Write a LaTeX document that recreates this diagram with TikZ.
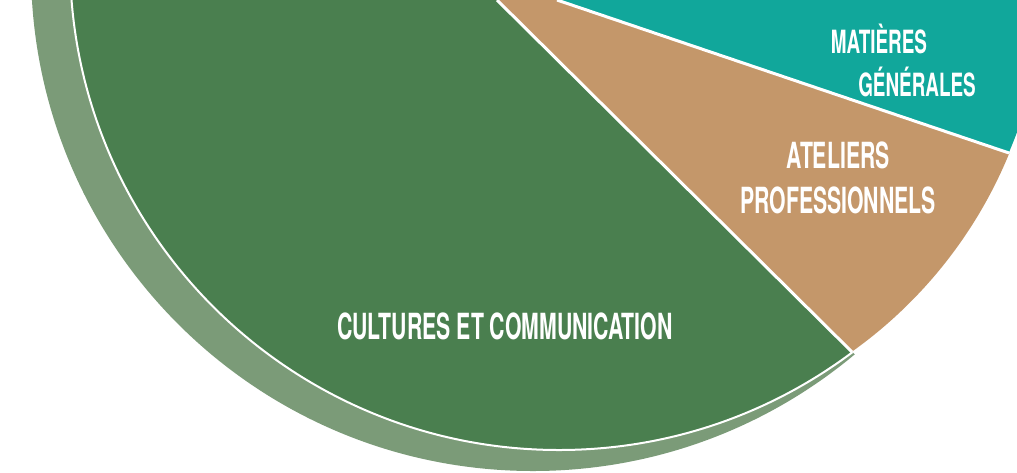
\documentclass[tikz,border=0pt]{standalone}
\usepackage{fontspec}
\newfontfamily\slicefont[FakeStretch=0.59]{TeX Gyre Heros}
\usetikzlibrary{calc}
\definecolor{cultgreen}{HTML}{4A7F4F}
\definecolor{cultshadow}{HTML}{7B9B78}
\definecolor{ateltan}{HTML}{C4976A}
\definecolor{matteal}{HTML}{11A79B}

\begin{document}
\begin{tikzpicture}[x=1pt,y=-1pt, every node/.style={text=white}]
    \tikzset{bigtext/.style={font=\slicefont\bfseries\fontsize{36}{36}\selectfont,anchor=base}}
    \tikzset{smalltext/.style={font=\slicefont\bfseries\fontsize{32}{32}\selectfont,anchor=base}}
    \tikzset{sep/.style={white,line width=3pt}}

    \useasboundingbox (0,0) rectangle (1017,472);
    \clip (0,0) rectangle (1017,472);

    % Green slice with its shadow
    \begin{scope}
      \clip (497,0) -- (1030,528) -- (-50,528) -- (-50,0) -- cycle;
      \fill[cultshadow] (533,-31) circle[radius=502pt];
      \fill[cultgreen] (559,-39) circle[radius=489pt];
      \draw[white,line width=2pt] (559,-39) circle[radius=489pt];
    \end{scope}

    % Tan slice
    \begin{scope}
      \clip (497,0) -- (1030,528) -- (1100,528) -- (1100,184) -- (557,0) -- cycle;
      \fill[ateltan] (588,-19) circle[radius=455pt];
    \end{scope}

    % Teal slice
    \begin{scope}
      \clip (557,0) -- (1100,184) -- (1100,-10) -- (557,-10) -- cycle;
      \fill[matteal] (580,-30) circle[radius=466pt];
    \end{scope}

    % white cuts between slices
    \draw[sep] (497,0) -- (852,352);
    \draw[sep] (557,0) -- (1009,153);

    \node[bigtext] (cultures) at (505,339) {CULTURES ET COMMUNICATION};
    \node[bigtext] (ateliers) at (838,168) {ATELIERS};
    \node[bigtext] (professionnels) at (838,213) {PROFESSIONNELS};
    \node[smalltext] (matieres) at (879,53) {MATIÈRES};
    \node[smalltext] (generales) at (917,96) {GÉNÉRALES};
\end{tikzpicture}
\end{document}
